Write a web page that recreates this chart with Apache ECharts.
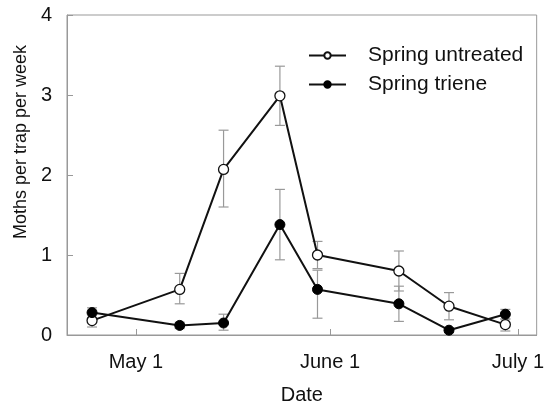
<!DOCTYPE html>
<html>
<head>
<meta charset="utf-8">
<script src="https://cdn.jsdelivr.net/npm/echarts@6/dist/echarts.min.js"></script>
<style>
  html, body { margin: 0; padding: 0; background: #fff; }
  #chart { width: 547px; height: 410px; }
</style>
</head>
<body>
<div id="chart"></div>
<script>
// sampling dates (one trap check per point)
var dates = ['2000-04-24', '2000-05-08', '2000-05-15', '2000-05-24', '2000-05-30', '2000-06-12', '2000-06-20', '2000-06-29'];

var untreated = [0.18, 0.57, 2.07, 2.99, 1.00, 0.80, 0.36, 0.13];
var untreatedLow = [0.10, 0.39, 1.60, 2.62, 0.83, 0.55, 0.19, 0.05];
var untreatedHigh = [0.27, 0.77, 2.56, 3.36, 1.17, 1.05, 0.53, 0.20];

var triene = [0.28, 0.12, 0.15, 1.38, 0.57, 0.39, 0.06, 0.26];
var trieneLow = [0.22, 0.08, 0.06, 0.94, 0.21, 0.17, 0.03, 0.20];
var trieneHigh = [0.34, 0.16, 0.26, 1.82, 0.81, 0.61, 0.09, 0.32];

var xTicks = ['2000-05-01', '2000-06-01', '2000-07-01'];
var xTickLabels = ['May 1', 'June 1', 'July 1'];
var yTicks = [0, 1, 2, 3, 4];

function t(s) {
  var p = s.split('-');
  return new Date(+p[0], +p[1] - 1, +p[2]).getTime();
}

var tickTimes = xTicks.map(t);
var font = 'Liberation Sans, Arial, sans-serif';

function pts(vals) {
  return vals.map(function(v, i) { return [t(dates[i]), v]; });
}
function bars(lo, hi) {
  return lo.map(function(v, i) { return [t(dates[i]), v, hi[i]]; });
}

function renderBar(params, api) {
  var x = api.value(0);
  var lo = api.coord([x, api.value(1)]);
  var hi = api.coord([x, api.value(2)]);
  var w = 5;
  var st = { stroke: '#999', lineWidth: 1.2 };
  return {
    type: 'group',
    children: [
      { type: 'line', shape: { x1: lo[0], y1: lo[1], x2: hi[0], y2: hi[1] }, style: st },
      { type: 'line', shape: { x1: lo[0] - w, y1: lo[1], x2: lo[0] + w, y2: lo[1] }, style: st },
      { type: 'line', shape: { x1: hi[0] - w, y1: hi[1], x2: hi[0] + w, y2: hi[1] }, style: st }
    ]
  };
}

echarts.init(document.getElementById('chart')).setOption({
  animation: false,
  backgroundColor: '#fff',
  grid: {
    show: true,
    borderColor: '#999',
    borderWidth: 1,
    left: 67,
    right: 4,
    top: 15,
    bottom: 74
  },
  legend: {
    data: ['Spring untreated', 'Spring triene'],
    orient: 'vertical',
    left: 303,
    top: 40,
    itemWidth: 37,
    itemHeight: 8,
    itemGap: 8,
    textStyle: { fontFamily: font, fontSize: 21, color: '#111', padding: [0, 0, 0, 17] }
  },
  xAxis: {
    type: 'value',
    min: t('2000-04-20'),
    max: t('2000-07-04'),
    name: 'Date',
    nameLocation: 'middle',
    nameGap: 50,
    nameTextStyle: { fontFamily: font, fontSize: 20, color: '#111' },
    splitLine: { show: false },
    axisLine: { lineStyle: { color: '#999' } },
    axisTick: { inside: true, length: 6, customValues: tickTimes, lineStyle: { color: '#999' } },
    axisLabel: {
      customValues: tickTimes,
      margin: 17,
      fontFamily: font,
      fontSize: 20,
      color: '#111',
      formatter: function(v) {
        var best = 0;
        tickTimes.forEach(function(tt, i) {
          if (Math.abs(tt - v) < Math.abs(tickTimes[best] - v)) best = i;
        });
        return xTickLabels[best];
      }
    }
  },
  yAxis: {
    type: 'value',
    min: yTicks[0],
    max: yTicks[yTicks.length - 1],
    interval: 1,
    name: 'Moths per trap per week',
    nameLocation: 'middle',
    nameGap: 36,
    nameTextStyle: { fontFamily: font, fontSize: 18, color: '#111', padding: [0, 0, 0, 66] },
    splitLine: { show: false },
    axisLine: { show: true, lineStyle: { color: '#999' } },
    axisTick: { show: true, inside: true, length: 6, lineStyle: { color: '#999' } },
    axisLabel: { margin: 15, fontFamily: font, fontSize: 20, color: '#111' }
  },
  series: [
    {
      name: 'untreated bars',
      type: 'custom',
      z: 1,
      renderItem: renderBar,
      data: bars(untreatedLow, untreatedHigh)
    },
    {
      name: 'triene bars',
      type: 'custom',
      z: 1,
      renderItem: renderBar,
      data: bars(trieneLow, trieneHigh)
    },
    {
      name: 'Spring untreated',
      type: 'line',
      z: 3,
      data: pts(untreated),
      symbol: 'circle',
      symbolSize: 10,
      itemStyle: { color: '#fff', borderColor: '#111', borderWidth: 1.3 },
      lineStyle: { color: '#111', width: 2 }
    },
    {
      name: 'Spring triene',
      type: 'line',
      z: 3,
      data: pts(triene),
      symbol: 'circle',
      symbolSize: 10,
      itemStyle: { color: '#000', borderColor: '#000', borderWidth: 1 },
      lineStyle: { color: '#111', width: 2 }
    }
  ]
});
</script>
</body>
</html>
